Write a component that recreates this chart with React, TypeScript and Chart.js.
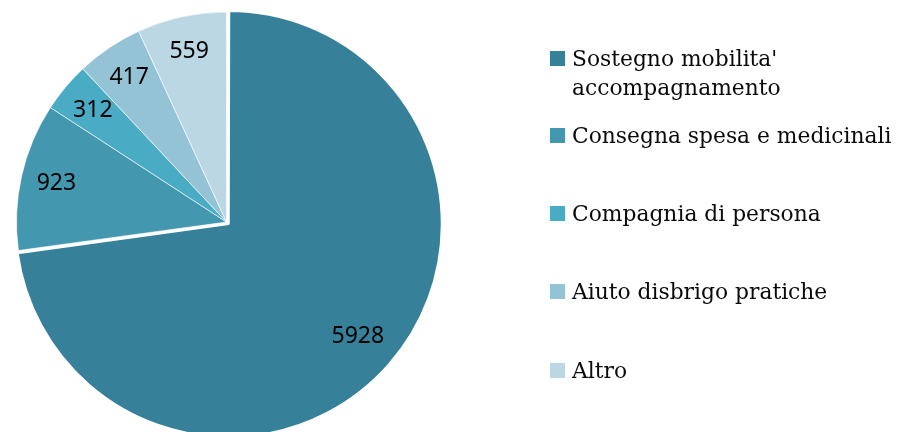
import React, { useEffect, useRef } from "react";
import { Chart, registerables } from "chart.js";

Chart.register(...registerables);

const categories = [
  "Sostegno mobilita' accompagnamento",
  "Consegna spesa e medicinali",
  "Compagnia di persona",
  "Aiuto disbrigo pratiche",
  "Altro",
];
const legendLines = [
  ["Sostegno mobilita'", "accompagnamento"],
  ["Consegna spesa e medicinali"],
  ["Compagnia di persona"],
  ["Aiuto disbrigo pratiche"],
  ["Altro"],
];
const values = [5928, 923, 312, 417, 559];
const colors = ["#37809A", "#4398B0", "#4AABC5", "#93C3D5", "#BBD7E3"];

const W = 897;
const H = 432;

const legendLayout = {
  boxX: 550,
  boxSize: 15,
  textX: 572,
  lineHeight: 29,
  baselines: [66, 143, 221, 299, 378],
  font: '21.8px "DejaVu Serif"',
};

const sliceLabelPlugin = {
  id: "sliceLabels",
  afterDatasetsDraw(chart: any) {
    const meta = chart.getDatasetMeta(0);
    const ctx = chart.ctx;
    ctx.save();
    ctx.font = '23px "Noto Sans"';
    ctx.fillStyle = "#000";
    ctx.textAlign = "center";
    ctx.textBaseline = "middle";
    meta.data.forEach((arc: any, i: number) => {
      const { x, y, startAngle, endAngle } = arc.getProps(["x", "y", "startAngle", "endAngle"]);
      const mid = (startAngle + endAngle) / 2;
      const r = 210 * 0.83;
      ctx.fillText(String(chart.data.datasets[0].data[i]), x + Math.cos(mid) * r, y + Math.sin(mid) * r);
    });
    ctx.restore();
  },
};

const legendPlugin = {
  id: "sideLegend",
  afterDraw(chart: any) {
    const ctx = chart.ctx;
    const L = legendLayout;
    ctx.save();
    ctx.font = L.font;
    ctx.textAlign = "left";
    ctx.textBaseline = "alphabetic";
    legendLines.forEach((lines, i) => {
      const y = L.baselines[i];
      ctx.fillStyle = colors[i];
      ctx.fillRect(L.boxX, y - L.boxSize, L.boxSize, L.boxSize);
      ctx.fillStyle = "#0a0a0a";
      lines.forEach((t, j) => ctx.fillText(t, L.textX, y + j * L.lineHeight));
    });
    ctx.restore();
  },
};

export default function App() {
  const ref = useRef<HTMLCanvasElement | null>(null);
  useEffect(() => {
    if (!ref.current) return;
    const chart = new Chart(ref.current, {
      type: "pie",
      data: {
        labels: categories,
        datasets: [
          {
            data: values,
            backgroundColor: colors,
            borderColor: "#ffffff",
            borderWidth: [2, 0.6, 0.6, 0.6, 0.6],
            offset: [12, 0, 0, 0, 0],
            hoverOffset: 0,
          } as any,
        ],
      },
      options: {
        responsive: false,
        animation: false,
        radius: 210,
        layout: { padding: { left: 0, right: W - 453, top: 12, bottom: 0 } },
        plugins: {
          legend: { display: false },
          tooltip: { enabled: false },
        },
        events: [],
      } as any,
      plugins: [sliceLabelPlugin, legendPlugin],
    });
    return () => chart.destroy();
  }, []);
  return (
    <div style={{ position: "fixed", left: 0, top: 0, width: W, height: H, background: "#fff" }}>
      <canvas ref={ref} width={W} height={H} style={{ display: "block" }} />
    </div>
  );
}
